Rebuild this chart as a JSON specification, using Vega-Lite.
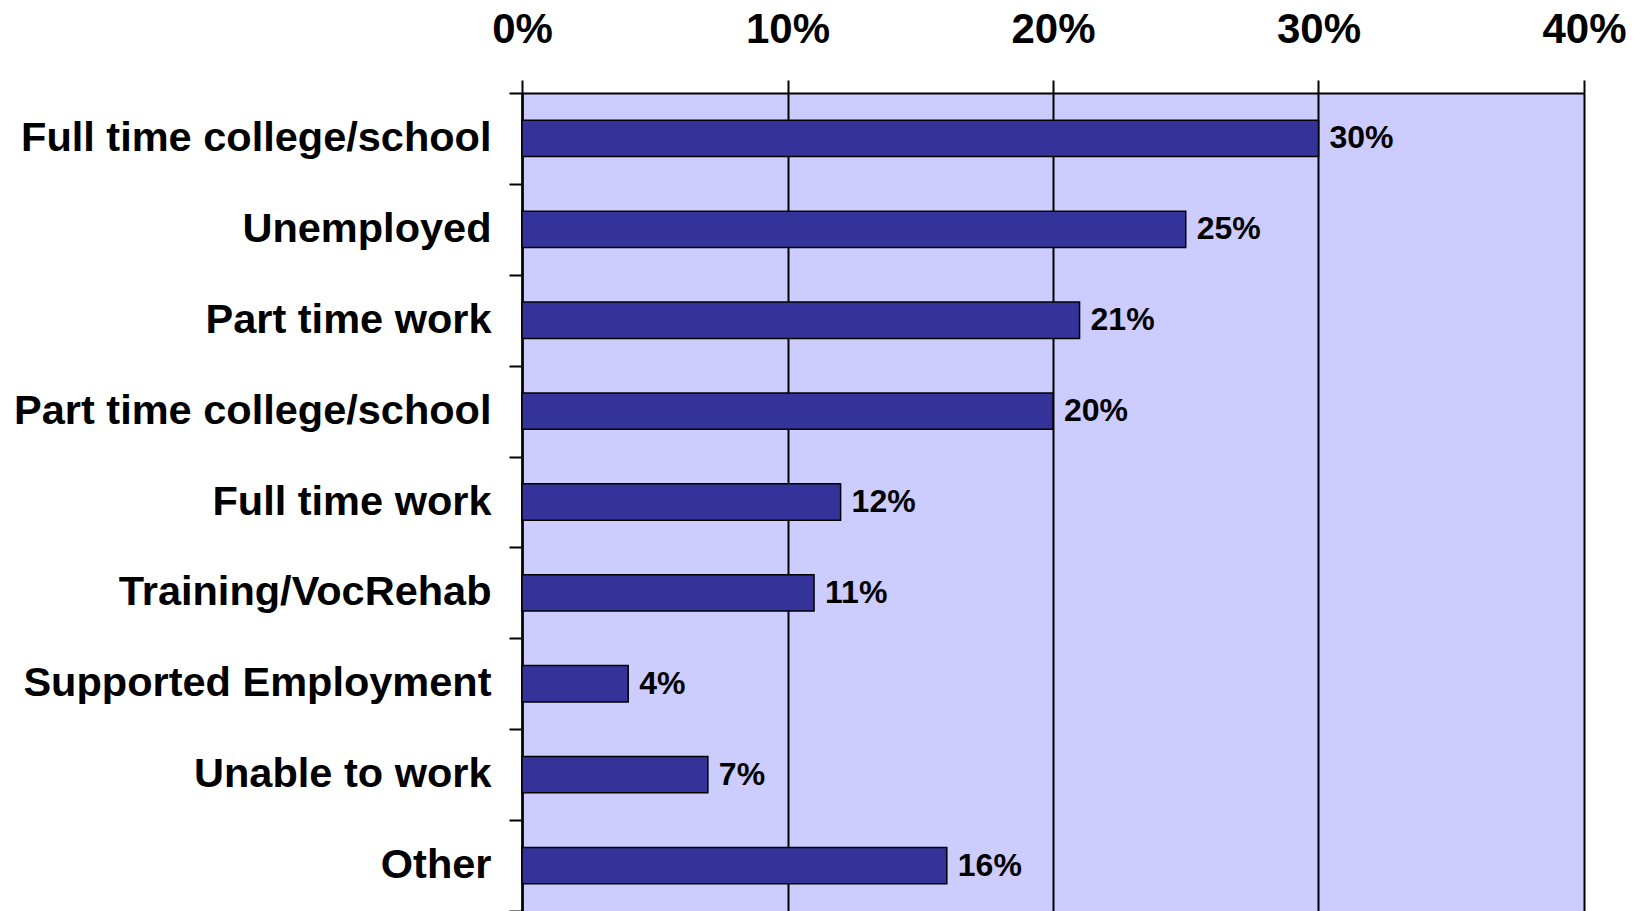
{
  "$schema": "https://vega.github.io/schema/vega-lite/v6.json",
  "autosize": {"type": "none"},
  "padding": {"left": 522, "top": 93, "right": 64, "bottom": 0},
  "width": 1062,
  "height": 818,
  "background": "white",
  "config": {
    "view": {"fill": "#CCCCFF", "stroke": null},
    "font": "Liberation Sans"
  },
  "data": {
    "values": [
      {"category": "Full time college/school", "value": 0.30},
      {"category": "Unemployed", "value": 0.25},
      {"category": "Part time work", "value": 0.21},
      {"category": "Part time college/school", "value": 0.20},
      {"category": "Full time work", "value": 0.12},
      {"category": "Training/VocRehab", "value": 0.11},
      {"category": "Supported Employment", "value": 0.04},
      {"category": "Unable to work", "value": 0.07},
      {"category": "Other", "value": 0.16}
    ]
  },
  "encoding": {
    "y": {
      "field": "category",
      "type": "nominal",
      "sort": null,
      "scale": {"paddingInner": 0, "paddingOuter": 0},
      "axis": {
        "title": null,
        "orient": "left",
        "tickBand": "extent",
        "tickSize": 13,
        "tickWidth": 2,
        "tickColor": "black",
        "domainColor": "black",
        "domainWidth": 2.5,
        "labelFontSize": 41.5,
        "labelFontWeight": "bold",
        "labelColor": "black",
        "labelFont": "Liberation Sans",
        "labelPadding": 18,
        "labelLimit": 0
      }
    },
    "x": {
      "field": "value",
      "type": "quantitative",
      "scale": {"domain": [0, 0.4], "nice": false},
      "axis": {
        "title": null,
        "orient": "top",
        "values": [0, 0.1, 0.2, 0.3, 0.4],
        "format": ".0%",
        "grid": true,
        "gridColor": "black",
        "gridWidth": 2,
        "gridOpacity": 1,
        "tickSize": 13,
        "tickWidth": 2,
        "tickColor": "black",
        "domainColor": "black",
        "domainWidth": 2,
        "labelFontSize": 42,
        "labelFontWeight": "bold",
        "labelColor": "black",
        "labelFont": "Liberation Sans",
        "labelPadding": 29,
        "labelFlush": false,
        "labelOverlap": false
      }
    }
  },
  "layer": [
    {
      "mark": {"type": "bar", "fill": "#333399", "stroke": "black", "strokeWidth": 1.5, "height": {"band": 0.4}}
    },
    {
      "mark": {"type": "text", "align": "left", "baseline": "middle", "dx": 11, "fontSize": 32, "fontWeight": "bold", "color": "black", "font": "Liberation Sans"},
      "encoding": {
        "text": {"field": "value", "type": "quantitative", "format": ".0%"}
      }
    }
  ]
}
